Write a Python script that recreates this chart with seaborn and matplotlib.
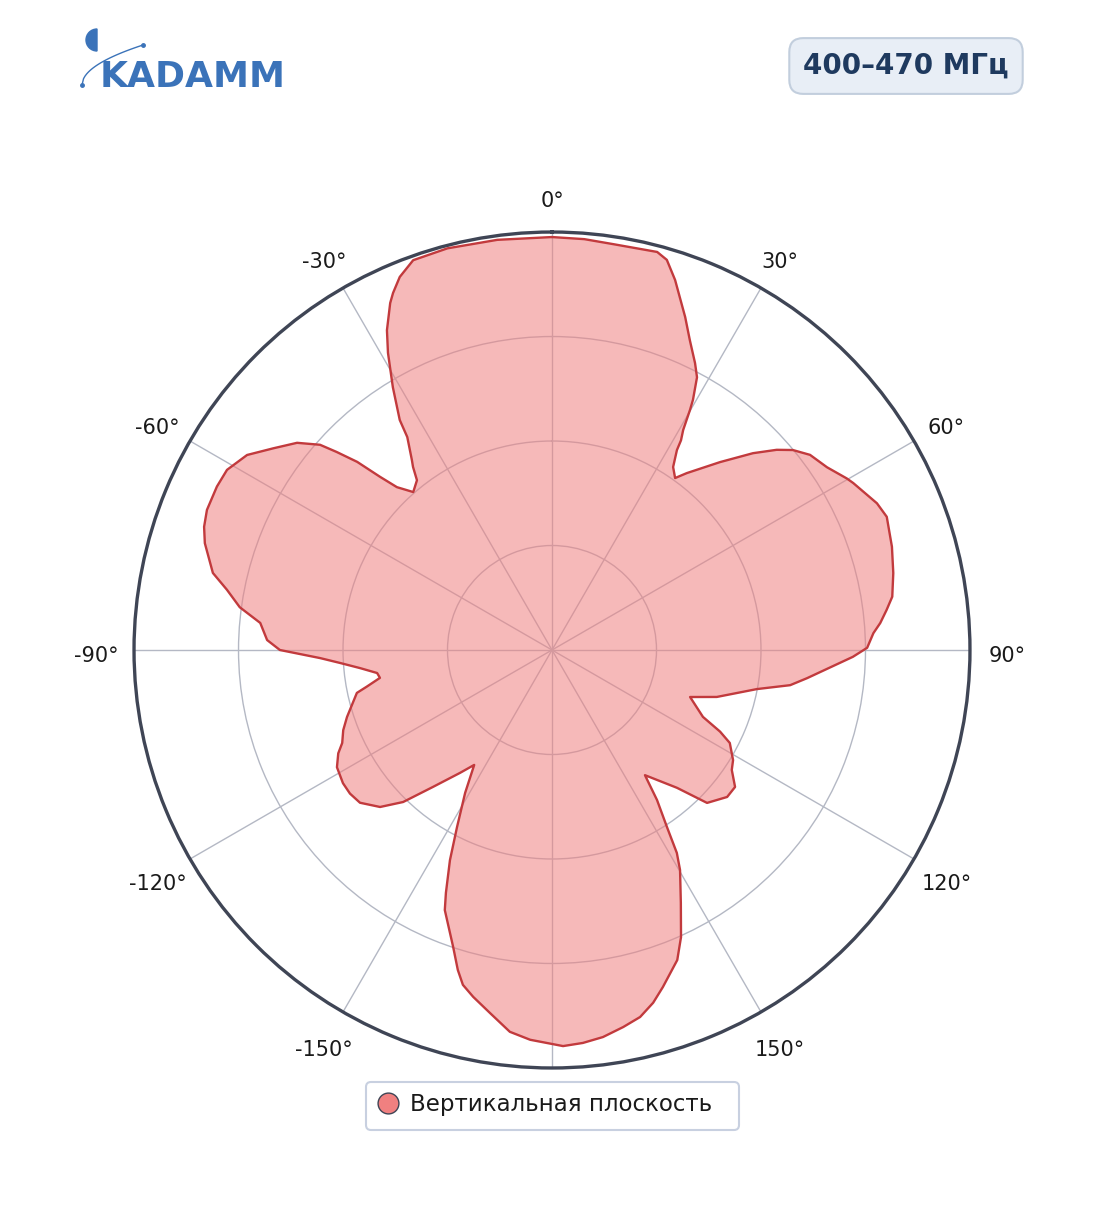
import numpy as np
import matplotlib
matplotlib.use("Agg")
import matplotlib.pyplot as plt
import matplotlib.transforms as mtransforms
import seaborn as sns
from matplotlib.lines import Line2D
from matplotlib.patches import Wedge, FancyBboxPatch

# данные диаграммы (угол по часовой от 0°, уровень 0..1)
angles_deg = [0, 4.5, 8.6, 14.8, 16.4, 18.4, 19.9, 21.8, 24, 26.5, 28, 29.4, 29.9, 30.8, 31.6,
              32, 33.5, 35.6, 37.3, 41.8, 45.6, 48.3, 50.3, 52.9, 56.4, 59.8, 61, 65.7, 68.3,
              73.1, 77.3, 81.1, 83.2, 85.3, 87, 89.6, 91.3, 96.3, 98.4, 100.8, 105.9, 108.8,
              113.9, 115.9, 117.6, 121.3, 123.7, 126.8, 130, 134.6, 137.8, 143.4, 145, 147,
              148.4, 149.8, 153, 155.8, 158, 161.8, 164, 166.5, 169.3, 172.5, 175.5, 178.4,
              183.2, 186.3, 189.7, 192.8, 194.9, 196.4, 198.4, 202.4, 203.6, 205.9, 208.2,
              211.3, 214.1, 216.8, 221, 224.4, 227.6, 231.5, 234.6, 237.5, 241.4, 244.2, 246.1,
              249, 251.9, 257.6, 258.8, 260.8, 262.5, 264.6, 266.5, 268, 270, 272, 275.3, 277.8,
              280.5, 282.8, 287.1, 289.5, 292.1, 296, 299, 302.6, 305.9, 309.1, 311.5, 312.6,
              314, 315.2, 316.4, 318.7, 321.5, 322.8, 323.6, 325.8, 326.5, 328.8, 331.1, 332.7,
              335, 336, 337.8, 340.4, 345.4, 352.4, 360]
level = [0.988, 0.986, 0.982, 0.985, 0.973, 0.933, 0.898, 0.858, 0.811, 0.767, 0.739, 0.687,
         0.662, 0.613, 0.589, 0.564, 0.525, 0.506, 0.532, 0.603, 0.673, 0.720, 0.749, 0.774,
         0.790, 0.816, 0.824, 0.853, 0.862, 0.850, 0.837, 0.824, 0.806, 0.788, 0.770, 0.754,
         0.720, 0.614, 0.576, 0.499, 0.410, 0.349, 0.395, 0.447, 0.480, 0.507, 0.517, 0.547,
         0.547, 0.521, 0.445, 0.373, 0.438, 0.505, 0.570, 0.609, 0.679, 0.753, 0.800, 0.849,
         0.878, 0.903, 0.918, 0.934, 0.943, 0.948, 0.934, 0.919, 0.881, 0.851, 0.829, 0.798,
         0.749, 0.673, 0.634, 0.559, 0.481, 0.400, 0.332, 0.367, 0.434, 0.509, 0.557, 0.587,
         0.593, 0.593, 0.586, 0.568, 0.549, 0.535, 0.516, 0.478, 0.452, 0.417, 0.422, 0.461,
         0.508, 0.555, 0.651, 0.682, 0.701, 0.754, 0.791, 0.832, 0.869, 0.883, 0.891, 0.892,
         0.889, 0.866, 0.823, 0.786, 0.741, 0.700, 0.648, 0.584, 0.538, 0.503, 0.519, 0.550,
         0.565, 0.616, 0.660, 0.735, 0.812, 0.861, 0.916, 0.935, 0.964, 0.990, 0.993, 0.990,
         0.988]

tick_angles = [0, 30, 60, 90, 120, 150, 180, 210, 240, 270, 300, 330]
tick_labels = ["0°", "30°", "60°", "90°", "120°", "150°", "", "-150°", "-120°", "-90°", "-60°", "-30°"]
ring_levels = [0.25, 0.5, 0.75, 1.0]

band_text = "400–470 МГц"
series_name = "Вертикальная плоскость"

sns.set_theme(style="white")
plt.rcParams['font.family'] = ['DejaVu Sans']

fig = plt.figure(figsize=(11.04, 12.11), dpi=100)
ax = fig.add_axes([0.1214, 0.1181, 0.7572, 0.6903], projection="polar")
ax.set_theta_zero_location("N")
ax.set_theta_direction(-1)

theta = np.deg2rad(angles_deg)
ax.fill(theta, level, color="lightcoral", alpha=0.55, lw=0, zorder=2)
sns.lineplot(x=theta, y=level, ax=ax, sort=False, color="#c23a3d", lw=1.7, zorder=3)

ax.set_ylim(0, 1)
ax.set_yticks(ring_levels)
ax.set_yticklabels([])
ax.set_thetagrids(tick_angles, tick_labels, fontsize=15, color="#1a1a1a")
ax.tick_params(axis="x", pad=20, length=0)
ax.tick_params(axis="y", length=0)
ax.set_axisbelow(True)
ax.grid(True, color="#b4b8c4", lw=1)
ax.spines["polar"].set_color("#3f4555")
ax.spines["polar"].set_linewidth(2.4)
ax.set_xlabel("")
ax.set_ylabel("")

# подписи углов чуть ниже, как в оригинале
fig.canvas.draw()
shift = mtransforms.ScaledTranslation(0, -6 / 100, fig.dpi_scale_trans)
for lab in ax.xaxis.get_majorticklabels():
    lab.set_transform(lab.get_transform() + shift)

# шапка, рамка легенды
top = fig.add_axes([0, 0, 1, 1], facecolor="none")
top.set_xlim(0, 1104)
top.set_ylim(1211, 0)
top.axis("off")

logo_blue = "#3b73b9"
top.text(100, 87, "KADAMM", fontsize=26, fontweight="bold", color=logo_blue, va="baseline", ha="left")
top.add_patch(Wedge((97, 40), 11, 90, 270, color=logo_blue))
arc_x = np.linspace(82, 143, 40)
arc_y = 85 - 40 * np.sqrt((arc_x - 82) / 61)
top.plot(arc_x, arc_y, color=logo_blue, lw=1)
top.plot([82, 143], [85, 45], "o", color=logo_blue, markersize=2.5)

top.text(906, 66, band_text, fontsize=20, fontweight="bold", color="#1f3a5f",
         ha="center", va="center",
         bbox=dict(boxstyle="round,pad=0.5", facecolor="#e8eef6", edgecolor="#c2cedd", lw=1.5))

top.add_patch(FancyBboxPatch((366, 1082), 373, 48, boxstyle="round,pad=0,rounding_size=5",
                             facecolor="white", edgecolor="#c8d0e0", lw=1.5, zorder=1))

# легенда
handle = Line2D([], [], marker="o", ls="", markersize=15, markerfacecolor="lightcoral",
                markeredgecolor="#3f4555", markeredgewidth=1)
leg = top.legend([handle], [series_name], loc="center left",
                 bbox_to_anchor=(374.5 / 1104, 1 - 1105 / 1211), bbox_transform=fig.transFigure,
                 fontsize=16.5, frameon=False, borderpad=0, handletextpad=0.35,
                 handlelength=1.2, borderaxespad=0)
leg.set_zorder(5)
for t in leg.get_texts():
    t.set_color("#1a1a1a")

fig.savefig("out.png", dpi=100)
